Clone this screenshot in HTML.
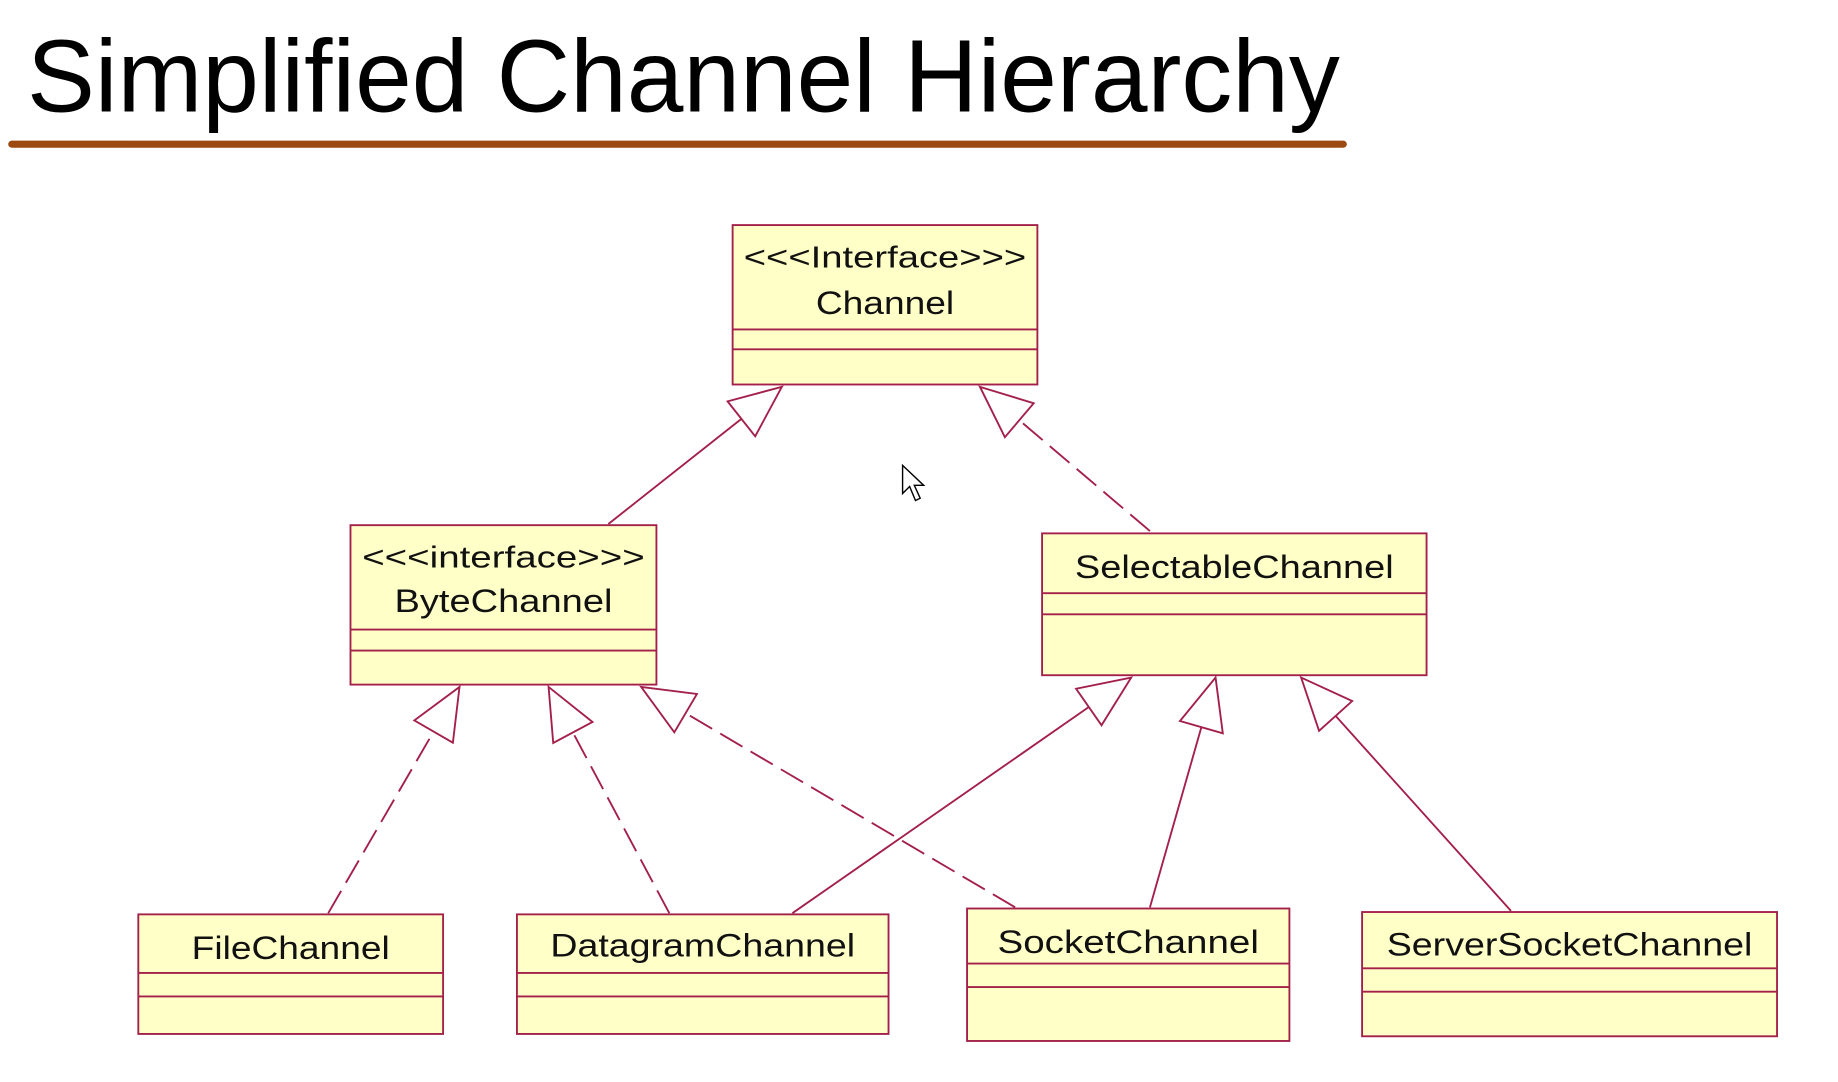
<!DOCTYPE html>
<html><head><meta charset="utf-8"><style>
html,body{margin:0;padding:0;background:#fff;}
svg{display:block;}
</style></head><body>
<svg id="s" width="1838" height="1082" viewBox="0 0 1568 923" preserveAspectRatio="none" xmlns="http://www.w3.org/2000/svg" font-family="Liberation Sans, Arial, sans-serif">
<text x="23" y="95" font-size="88" textLength="1120" lengthAdjust="spacingAndGlyphs" fill="#000">Simplified Channel Hierarchy</text>
<line x1="10" y1="123" x2="1146" y2="123" stroke="#9c4a12" stroke-width="6" stroke-linecap="round"/>
<g id="boxes" fill="#ffffc8" stroke="#a3204a" stroke-width="1.6"></g>
<g id="lines" stroke="#a3204a" stroke-width="1.6" fill="none"></g>
<g id="heads" stroke="#a3204a" stroke-width="1.6" fill="#fff"></g>
<g id="txt" fill="#111" font-size="28" text-anchor="middle"></g>
<path d="M770 397 L770 421 L776 415 L781 427 L785 425 L780 414 L788 414 Z" fill="#fff" stroke="#000" stroke-width="1.2"/>
</svg>
<script>
var NS="http://www.w3.org/2000/svg";
function el(p,t,a,txt){var e=document.createElementNS(NS,t);for(var k in a)e.setAttribute(k,a[k]);if(txt)e.textContent=txt;document.getElementById(p).appendChild(e);return e;}
var boxes=[
 [625,192,885,328,281,298,[["<<<Interface>>>",241],["Channel",118]],[218,258]],
 [299,448,560,584,537,555,[["<<<interface>>>",241],["ByteChannel",186]],[474,512]],
 [889,455,1217,576,506,524,[["SelectableChannel",272]],[483]],
 [118,780,378,882,830,850,[["FileChannel",169]],[808]],
 [441,780,758,882,830,850,[["DatagramChannel",260]],[806]],
 [825,775,1100,888,822,842,[["SocketChannel",223]],[803]],
 [1162,778,1516,884,826,846,[["ServerSocketChannel",312]],[805]]
];
boxes.forEach(function(b){
 el("boxes","rect",{x:b[0],y:b[1],width:b[2]-b[0],height:b[3]-b[1]});
 el("boxes","line",{x1:b[0],y1:b[4],x2:b[2],y2:b[4]});
 el("boxes","line",{x1:b[0],y1:b[5],x2:b[2],y2:b[5]});
 b[6].forEach(function(t,i){
  var st=t[0].indexOf("<")==0;
  el("txt","text",{x:(b[0]+b[2])/2,y:b[7][i]+10,"font-size":st?26:28,textLength:t[1],lengthAdjust:"spacingAndGlyphs"},t[0]);
 });
});
var arrows=[
 [519,447,667,330,0],[981,453,836,330,1],
 [280,779,392,586,1],[571,779,468,586,1],[866,774,547,586,1],
 [676,779,965,578,0],[981,774,1037,578,0],[1289,777,1110,578,0]
];
arrows.forEach(function(a){
 var dx=a[2]-a[0],dy=a[3]-a[1],L=Math.hypot(dx,dy),ux=dx/L,uy=dy/L;
 var hl=44,hw=19;
 var bx=a[2]-ux*hl,by=a[3]-uy*hl;
 var at={x1:a[0],y1:a[1],x2:bx,y2:by};
 if(a[4])at["stroke-dasharray"]="22,8";
 el("lines","line",at);
 var px=-uy,py=ux;
 el("heads","polygon",{points:a[2]+","+a[3]+" "+(bx+px*hw)+","+(by+py*hw)+" "+(bx-px*hw)+","+(by-py*hw)});
});
</script>
</body></html>
